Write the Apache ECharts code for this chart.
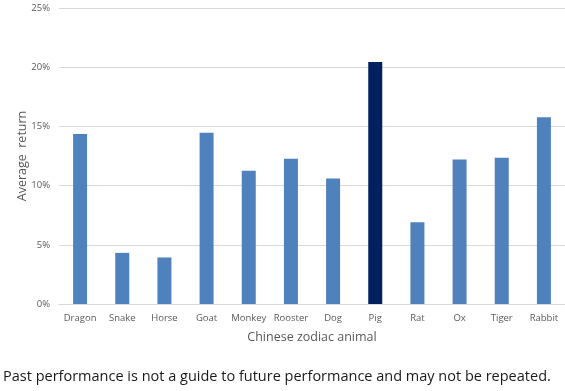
<!DOCTYPE html>
<html><head><meta charset="utf-8">
<script src="https://cdn.jsdelivr.net/npm/echarts@6/dist/echarts.min.js"></script>
<style>html,body{margin:0;padding:0;background:#fff}#c{width:565px;height:391px}</style>
</head><body><div id="c"></div>
<script>
const categories = ["Dragon","Snake","Horse","Goat","Monkey","Rooster","Dog","Pig","Rat","Ox","Tiger","Rabbit"];
const values = [14.35, 4.32, 3.93, 14.46, 11.26, 12.27, 10.6, 20.44, 6.9, 12.2, 12.35, 15.78];
const highlight = "Pig";
const yTicks = [0, 5, 10, 15, 20, 25];
const footnote = "Past performance is not a guide to future performance and may not be repeated.";

const chart = echarts.init(document.getElementById('c'), null, {renderer:'canvas'});
chart.setOption({
  animation: false,
  grid: {left: 59, right: -3, top: 8, bottom: 87, containLabel: false},
  xAxis: {
    type: 'category', data: categories,
    axisLine: {lineStyle: {color: '#d9d9d9'}},
    axisTick: {show: false},
    axisLabel: {color: '#595959', fontSize: 9.5, fontFamily: 'Open Sans', margin: 9, interval: 0},
    name: 'Chinese zodiac animal', nameLocation: 'middle', nameGap: 27, nameMoveOverlap: false,
    nameTextStyle: {color: '#595959', fontSize: 12.5, fontFamily: 'Open Sans'}
  },
  yAxis: {
    type: 'value', min: yTicks[0], max: yTicks[yTicks.length-1], interval: 5,
    axisLine: {show: false}, axisTick: {show: false},
    splitLine: {lineStyle: {color: '#d9d9d9'}},
    axisLabel: {color: '#595959', fontSize: 9.5, fontFamily: 'Open Sans', margin: 9, formatter: v => v + '%'},
    name: 'Average  return', nameLocation: 'middle', nameGap: 30, nameRotate: 90, nameMoveOverlap: false,
    nameTextStyle: {color: '#595959', fontSize: 12.5, fontFamily: 'Open Sans'}
  },
  series: [{
    type: 'bar', barWidth: 14,
    data: values.map((v, i) => ({value: v, itemStyle: {color: categories[i] === highlight ? '#002060' : '#4f81bd'}}))
  }],
  graphic: [{
    type: 'text', left: 3, top: 369,
    style: {text: footnote, fill: '#1a1a1a', font: '14.5px "Open Sans"'}
  }]
});
</script></body></html>
